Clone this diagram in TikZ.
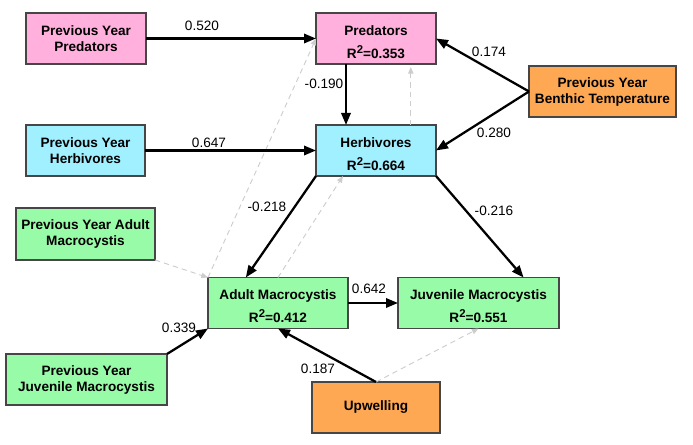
\documentclass[tikz,border=0pt]{standalone}
\usepackage{fontspec}
\setmainfont{Liberation Sans}
\usetikzlibrary{arrows.meta,calc}
\definecolor{pinkbox}{RGB}{255,176,220}
\definecolor{cyanbox}{RGB}{160,240,255}
\definecolor{greenbox}{RGB}{152,251,168}
\definecolor{orangebox}{RGB}{255,168,84}
\definecolor{boxline}{RGB}{70,70,70}
\definecolor{dashgray}{RGB}{205,205,205}
\newcommand{\rsqtext}[2]{\rule{0pt}{12.6pt}#1\\R\raisebox{3.75pt}{\fontsize{8.5}{10}\selectfont 2}=#2}
\tikzset{
  box/.style={draw=boxline, line width=0.8pt, inner sep=0pt, outer sep=0pt, align=center,
    font=\fontsize{10.2}{12}\selectfont\bfseries},
  rbox/.style={box, font=\fontsize{10.2}{17.25}\selectfont\bfseries},
  solidarrow/.style={line width=1.7pt, -{Triangle[length=9pt,width=7pt]}},
  dasharrow/.style={draw=dashgray, line width=0.7pt, dash pattern=on 4pt off 3pt,
    -{Triangle[length=5pt,width=4pt]}},
  coef/.style={font=\fontsize{10.2}{12}\selectfont, inner sep=0pt}
}
\begin{document}
\begin{tikzpicture}[x=0.75pt,y=-0.75pt]
\useasboundingbox (0,0) rectangle (693,445);
% boxes
\node[box, fill=pinkbox, minimum width=90pt, minimum height=38.25pt] (pyp) at (86,38.5) {Previous Year\\Predators};
\node[rbox, fill=pinkbox, minimum width=90pt, minimum height=38.25pt] (pred) at (376,38.5) {\rsqtext{Predators}{0.353}};
\node[box, fill=orangebox, minimum width=110.25pt, minimum height=38.25pt] (bent) at (602.5,91.5) {Previous Year\\Benthic Temperature};
\node[box, fill=cyanbox, minimum width=89.25pt, minimum height=38.25pt] (pyh) at (85.5,150.5) {Previous Year\\Herbivores};
\node[rbox, fill=cyanbox, minimum width=90pt, minimum height=38.25pt] (herb) at (376,150.5) {\rsqtext{Herbivores}{0.664}};
\node[box, fill=greenbox, minimum width=104.25pt, minimum height=39pt] (pya) at (85.5,234) {Previous Year Adult\\Macrocystis};
\node[rbox, fill=greenbox, minimum width=105pt, minimum height=38.25pt] (adult) at (278,303) {\rsqtext{Adult Macrocystis}{0.412}};
\node[rbox, fill=greenbox, minimum width=120.75pt, minimum height=38.25pt] (juv) at (478.5,303) {\rsqtext{Juvenile Macrocystis}{0.551}};
\node[box, fill=greenbox, minimum width=120.75pt, minimum height=38.25pt] (pyj) at (86.5,379.5) {Previous Year\\Juvenile Macrocystis};
\node[box, fill=orangebox, minimum width=96pt, minimum height=38.25pt] (upw) at (376,407.5) {Upwelling};
% dashed (non-significant) paths
\draw[dasharrow] (pya.south east) -- (adult.north west);
\draw[dasharrow] (adult.north west) -- (pred.west);
\draw[dasharrow] (adult.north) -- ($(herb.south west)!0.225!(herb.south east)$);
\draw[dasharrow] ($(herb.north west)!0.79!(herb.north east)$) -- ($(pred.south west)!0.79!(pred.south east)+(0,3)$);
\draw[dasharrow] (upw.north) -- (juv.south);
% significant paths
\draw[solidarrow] (pyp) -- (pred);
\draw[solidarrow] (pyh) -- (herb);
\draw[solidarrow] ($(pred.south west)!0.25!(pred.south east)$) -- ($(herb.north west)!0.25!(herb.north east)$);
\draw[solidarrow] (bent.west) -- (pred.east);
\draw[solidarrow] (bent.west) -- (herb.east);
\draw[solidarrow] (herb.south west) -- ($(adult.north west)!0.27!(adult.north east)$);
\draw[solidarrow] (herb.south east) -- ($(juv.north west)!0.78!(juv.north east)$);
\draw[solidarrow] (adult) -- (juv);
\draw[solidarrow] (pyj.north east) -- (adult.south west);
\draw[solidarrow] (upw.north) -- (adult.south);
% coefficients
\node[coef] (c1) at (202,26) {0.520};
\node[coef] (c2) at (209,143) {0.647};
\node[coef] (c3) at (324,84) {-0.190};
\node[coef] (c4) at (489,52) {0.174};
\node[coef] (c5) at (494,133) {0.280};
\node[coef] (c6) at (267,207) {-0.218};
\node[coef] (c7) at (494,211) {-0.216};
\node[coef] (c8) at (369,289) {0.642};
\node[coef] (c9) at (179,328) {0.339};
\node[coef] (c10) at (318,369) {0.187};
\end{tikzpicture}
\end{document}
